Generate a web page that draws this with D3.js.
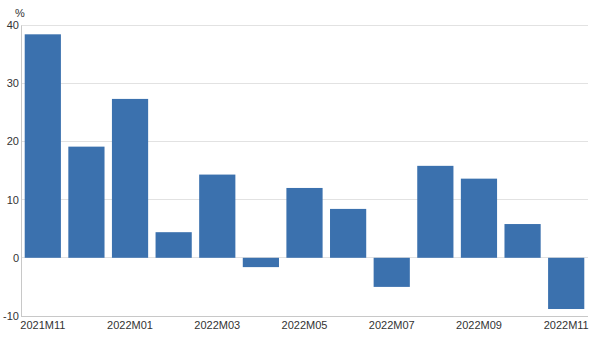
<!DOCTYPE html>
<html><head><meta charset="utf-8">
<script src="https://cdn.jsdelivr.net/npm/d3@7"></script>
<style>body{margin:0;background:#fff}svg{display:block}text{font-family:"Liberation Sans",Arial,sans-serif;fill:#333}</style>
</head><body>
<svg id="c" width="605" height="354"></svg>
<script>
const categories = ["2021M11","2021M12","2022M01","2022M02","2022M03","2022M04","2022M05","2022M06","2022M07","2022M08","2022M09","2022M10","2022M11"];
const values = [38.4, 19.1, 27.3, 4.4, 14.3, -1.6, 12.0, 8.4, -5.0, 15.8, 13.6, 5.8, -8.8];
const yTicks = [-10, 0, 10, 20, 30, 40];
const xLabels = ["2021M11","2022M01","2022M03","2022M05","2022M07","2022M09","2022M11"];
const unit = "%";

const svg = d3.select("#c");
const m = {l:21, r:17, t:25, b:38};
const W = 605, H = 354;
const x = d3.scaleBand().domain(categories).range([m.l, W - m.r]).paddingInner(0.17).paddingOuter(0.085);
const y = d3.scaleLinear().domain([-10, 40]).range([H - m.b, m.t]);

svg.append("g").selectAll("line").data(yTicks.filter(d => d > -10)).join("line")
  .attr("x1", m.l).attr("x2", W - m.r).attr("y1", d => y(d)).attr("y2", d => y(d))
  .attr("stroke", "#e2e2e2").attr("stroke-width", 1).attr("shape-rendering","crispEdges");

svg.append("g").selectAll("rect").data(values).join("rect")
  .attr("x", (d,i) => x(categories[i])).attr("width", x.bandwidth())
  .attr("y", d => y(Math.max(0,d))).attr("height", d => Math.abs(y(d) - y(0)))
  .attr("fill", "#3b71ae");

const ya = svg.append("g").attr("transform", `translate(${m.l},0)`)
  .call(d3.axisLeft(y).tickValues(yTicks).tickFormat(d => String(d)).tickSize(0).tickPadding(2));
ya.select(".domain").attr("stroke","#c8c8c8");
ya.selectAll("text").style("font-size","11px").attr("fill","#333");

const xa = svg.append("g").attr("transform", `translate(0,${H - m.b})`)
  .call(d3.axisBottom(x).tickValues(xLabels).tickSize(0).tickPadding(5));
xa.select(".domain").attr("stroke","#c8c8c8").attr("d", `M${m.l},0.5H${W - m.r}`);
xa.selectAll("text").style("font-size","11px").attr("fill","#333");

svg.append("text").attr("x", 20).attr("y", 17).attr("text-anchor","middle")
  .style("font-size","11px").text(unit);
</script>
</body></html>
